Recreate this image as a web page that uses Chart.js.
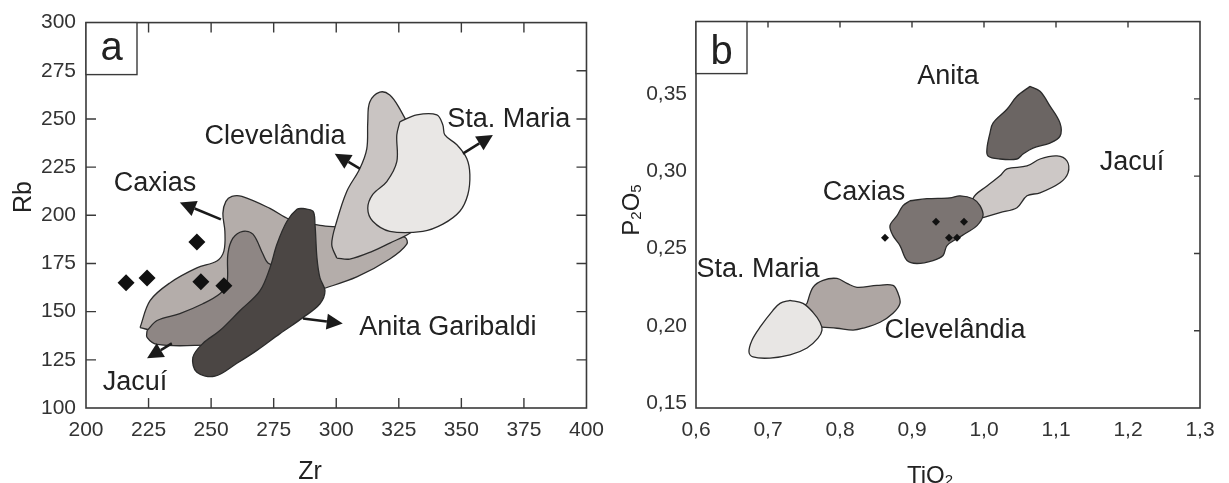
<!DOCTYPE html>
<html>
<head>
<meta charset="utf-8">
<script src="https://cdn.jsdelivr.net/npm/chart.js@4.4.1/dist/chart.umd.min.js"></script>
<style>
  html, body { margin: 0; padding: 0; background: #fff; }
  #wrap { position: relative; width: 1229px; height: 483px; overflow: hidden; }
  canvas { position: absolute; top: 0; }
  #chartA { left: 0; }
  #chartB { left: 614px; }
</style>
</head>
<body>
<div id="wrap">
  <canvas id="chartA" width="614" height="483"></canvas>
  <canvas id="chartB" width="615" height="483"></canvas>
</div>
<script>
const FONT = '"Liberation Sans", Arial, Helvetica, sans-serif';

// ---------- panel a : Zr vs Rb ----------
const zrTicks = [225, 250, 275, 300, 325, 350, 375];
const rbTicks = [125, 150, 175, 200, 225, 250, 275];

const aCaxias = [[221.6, 141.7], [225.6, 155.7], [233.5, 164.9], [244.3, 172.7], [252.3, 176.3], [255.1, 181.4],
  [255.5, 191.7], [254.7, 201.0], [255.9, 207.2], [258.3, 209.8], [262.3, 209.8], [273.5, 203.6], [281.5, 197.9],
  [293.5, 194.8], [301.4, 193.8], [317.4, 191.7], [327.4, 188.6], [328.2, 185.0], [321.4, 177.3], [308.2, 168.0],
  [293.5, 161.3], [281.5, 155.7], [265.5, 147.0], [245.5, 141.0], [228.0, 140.0]];
const aJacui = [[224.4, 140.2], [228.4, 145.4], [237.5, 149.0], [246.7, 154.1], [253.5, 159.3], [256.3, 164.4],
  [256.7, 179.9], [258.7, 188.1], [262.7, 191.7], [266.7, 190.2], [270.7, 179.9], [272.7, 175.3], [279.5, 171.1],
  [272.0, 145.0], [259.0, 134.5], [244.3, 132.5], [228.4, 133.0], [224.4, 136.6]];
const aAnita = [[286.7, 203.6], [290.7, 202.1], [291.5, 195.4], [292.3, 177.8], [293.5, 167.5], [295.5, 160.8],
  [293.5, 154.1], [286.7, 146.9], [277.5, 138.6], [268.3, 129.9], [260.3, 123.2], [251.5, 116.5], [244.3, 118.5],
  [242.7, 126.3], [246.7, 133.5], [253.5, 140.2], [261.5, 150.5], [269.5, 160.8], [273.5, 172.7], [276.3, 185.0],
  [280.3, 196.9], [284.3, 203.1]];
const aCleve = [[300.2, 177.8], [298.2, 185.0], [300.2, 196.9], [304.2, 212.4], [309.4, 224.2], [312.2, 234.5],
  [312.6, 248.5], [313.4, 258.8], [317.4, 263.9], [321.4, 262.4], [325.4, 255.2], [329.4, 244.8], [335.4, 222.7],
  [337.4, 199.5], [329.4, 190.7], [321.4, 185.6], [314.6, 181.4], [305.4, 177.3]];
const aStaMaria = [[325.4, 248.5], [332.2, 252.1], [340.2, 252.1], [342.6, 246.9], [343.4, 241.7], [348.2, 236.6],
  [352.2, 229.4], [353.4, 221.1], [352.6, 210.8], [349.4, 202.1], [342.6, 195.4], [334.6, 191.7], [321.4, 191.7],
  [314.6, 196.9], [312.6, 203.6], [314.6, 210.8], [320.2, 217.5], [324.2, 227.8], [324.2, 241.7]];
const aSamples = [[216.0, 165.0], [224.4, 167.5], [244.3, 186.1], [245.9, 165.5], [255.1, 163.4]];
const aArrows = [[253.9, 197.9, 237.5, 206.7], [309.4, 224.2, 299.4, 232.0], [350.6, 232.0, 362.6, 241.7],
  [286.7, 146.4, 302.6, 143.8], [234.3, 133.5, 224.4, 125.8]];
const aLabels = [['Clevelândia', 275.5, 240.7], ['Caxias', 227.6, 216.5], ['Sta. Maria', 368.9, 249.5],
  ['Anita Garibaldi', 344.6, 141.7], ['Jacuí', 219.6, 113.4]];

// ---------- panel b : TiO2 vs P2O5 ----------
const tiTicks = [0.7, 0.8, 0.9, 1.0, 1.1, 1.2];
const pTicks = [0.20, 0.25, 0.30, 0.35];

const bAnita = [[1.0639, 0.3581], [1.0778, 0.3549], [1.0917, 0.3453], [1.1056, 0.3343], [1.1056, 0.3259],
  [1.0917, 0.3214], [1.0681, 0.3182], [1.0542, 0.3143], [1.0458, 0.3111], [1.0222, 0.3111], [1.0056, 0.3131],
  [1.0042, 0.3182], [1.0083, 0.3279], [1.0125, 0.3343], [1.0319, 0.3433], [1.0458, 0.3517]];
const bJacui = [[0.9986, 0.2731], [0.9944, 0.2764], [0.9847, 0.2854], [1.0042, 0.2937], [1.0222, 0.3002],
  [1.0319, 0.3047], [1.0597, 0.3066], [1.0778, 0.3111], [1.1014, 0.3131], [1.1153, 0.3098], [1.1167, 0.3021],
  [1.1056, 0.2957], [1.0778, 0.2892], [1.0597, 0.2873], [1.0458, 0.2796], [1.0222, 0.2764]];
const bCaxias = [[0.8972, 0.2841], [0.9208, 0.2854], [0.9528, 0.2860], [0.9667, 0.2873], [0.9847, 0.2854],
  [0.9944, 0.2809], [0.9986, 0.2744], [0.9903, 0.2680], [0.9764, 0.2635], [0.9625, 0.2596], [0.9486, 0.2551],
  [0.9431, 0.2487], [0.9292, 0.2454], [0.9069, 0.2435], [0.8931, 0.2454], [0.8833, 0.2551], [0.8736, 0.2615],
  [0.8694, 0.2680], [0.8792, 0.2744], [0.8875, 0.2809]];
const bStaMaria = [[0.7306, 0.2197], [0.7486, 0.2177], [0.7625, 0.2119], [0.7722, 0.2055], [0.7750, 0.2004],
  [0.7694, 0.1952], [0.7542, 0.1888], [0.7306, 0.1843], [0.7028, 0.1823], [0.6792, 0.1830], [0.6736, 0.1862],
  [0.6778, 0.1939], [0.6889, 0.2023], [0.7069, 0.2132], [0.7167, 0.2177]];
const bCleve = [[0.7542, 0.2177], [0.7625, 0.2281], [0.7764, 0.2326], [0.7958, 0.2338], [0.8097, 0.2306],
  [0.8236, 0.2281], [0.8514, 0.2293], [0.8736, 0.2293], [0.8806, 0.2242], [0.8833, 0.2177], [0.8736, 0.2113],
  [0.8556, 0.2055], [0.8319, 0.2016], [0.8181, 0.2004], [0.7958, 0.2016], [0.7750, 0.2023], [0.7514, 0.2036],
  [0.7444, 0.2132]];
const bSamples = [[0.8625, 0.2602], [0.9333, 0.2705], [0.9722, 0.2705], [0.9514, 0.2602], [0.9625, 0.2602]];
const bLabels = [['Anita', 0.95, 0.3646], ['Jacuí', 1.2056, 0.3086], ['Caxias', 0.8333, 0.2892],
  ['Sta. Maria', 0.6861, 0.2396], ['Clevelândia', 0.9597, 0.2004]];

const toXY = (pts) => pts.map(([x, y]) => ({ x, y }));

function field(pts, color, order) {
  return {
    data: toXY(pts.concat([pts[0]])),
    backgroundColor: color,
    borderColor: '#2b2b2b',
    borderWidth: 1.3,
    fill: 'shape',
    tension: 0.35,
    pointRadius: 0,
    order,
  };
}

function samples(pts, radius) {
  return {
    data: toXY(pts),
    showLine: false,
    pointStyle: 'rectRot',
    pointRadius: radius,
    backgroundColor: '#111',
    borderColor: '#111',
    borderWidth: 0,
    order: 0,
  };
}

function drawArrow(ctx, x0, y0, x1, y1) {
  const ang = Math.atan2(y1 - y0, x1 - x0);
  const len = 16, half = 8;
  const bx = x1 - Math.cos(ang) * len, by = y1 - Math.sin(ang) * len;
  ctx.strokeStyle = '#1a1a1a';
  ctx.lineWidth = 2.5;
  ctx.beginPath();
  ctx.moveTo(x0, y0);
  ctx.lineTo(bx, by);
  ctx.stroke();
  ctx.fillStyle = '#1a1a1a';
  ctx.beginPath();
  ctx.moveTo(x1, y1);
  ctx.lineTo(bx + Math.sin(ang) * half, by - Math.cos(ang) * half);
  ctx.lineTo(bx - Math.sin(ang) * half, by + Math.cos(ang) * half);
  ctx.closePath();
  ctx.fill();
}

// parts: [[text, isSubscript], ...], centred on (cx, cy)
function drawTitle(ctx, parts, cx, cy, size, rotate) {
  ctx.save();
  ctx.translate(cx, cy);
  if (rotate) ctx.rotate(-Math.PI / 2);
  const sub = Math.round(size * 0.62);
  let w = 0;
  parts.forEach(([t, s]) => { ctx.font = `${s ? sub : size}px ${FONT}`; w += ctx.measureText(t).width; });
  let x = -w / 2;
  const base = size * 0.36;
  ctx.fillStyle = '#222';
  ctx.textAlign = 'left';
  ctx.textBaseline = 'alphabetic';
  parts.forEach(([t, s]) => {
    ctx.font = `${s ? sub : size}px ${FONT}`;
    ctx.fillText(t, x, s ? base + size * 0.1 : base);
    x += ctx.measureText(t).width;
  });
  ctx.restore();
}

const decor = {
  id: 'decor',
  afterDatasetsDraw(chart, args, opts) {
    const { ctx, chartArea: ca } = chart;
    const sx = chart.scales.x, sy = chart.scales.y;
    ctx.save();

    (opts.arrows || []).forEach(([x0, y0, x1, y1]) =>
      drawArrow(ctx, sx.getPixelForValue(x0), sy.getPixelForValue(y0), sx.getPixelForValue(x1), sy.getPixelForValue(y1)));

    ctx.fillStyle = '#222';
    ctx.font = `27px ${FONT}`;
    ctx.textAlign = 'center';
    ctx.textBaseline = 'middle';
    opts.labels.forEach(([t, lx, ly]) => ctx.fillText(t, sx.getPixelForValue(lx), sy.getPixelForValue(ly)));

    // frame and inward ticks
    ctx.strokeStyle = '#3a3a3a';
    ctx.lineWidth = 1.6;
    ctx.strokeRect(ca.left, ca.top, ca.width, ca.height);
    const tl = opts.tickLen;
    ctx.lineWidth = 1.4;
    ctx.beginPath();
    (opts.ticks.top || []).forEach(v => { const p = sx.getPixelForValue(v); ctx.moveTo(p, ca.top); ctx.lineTo(p, ca.top + tl); });
    (opts.ticks.bottom || []).forEach(v => { const p = sx.getPixelForValue(v); ctx.moveTo(p, ca.bottom); ctx.lineTo(p, ca.bottom - tl); });
    (opts.ticks.left || []).forEach(v => { const p = sy.getPixelForValue(v); ctx.moveTo(ca.left, p); ctx.lineTo(ca.left + tl, p); });
    (opts.ticks.right || []).forEach(v => { const p = sy.getPixelForValue(v); ctx.moveTo(ca.right, p); ctx.lineTo(ca.right - tl, p); });
    ctx.stroke();

    // panel letter box
    ctx.fillStyle = '#fff';
    ctx.fillRect(ca.left, ca.top, 51, 52);
    ctx.strokeRect(ca.left, ca.top, 51, 52);
    ctx.fillStyle = '#222';
    ctx.font = `40px ${FONT}`;
    ctx.textAlign = 'center';
    ctx.textBaseline = 'alphabetic';
    ctx.fillText(opts.letter, ca.left + 25.5, ca.top + opts.letterBase);
    ctx.restore();

    drawTitle(ctx, opts.xTitle.parts, opts.xTitle.x, opts.xTitle.y, opts.xTitle.size, false);
    drawTitle(ctx, opts.yTitle.parts, opts.yTitle.x, opts.yTitle.y, opts.yTitle.size, true);
  },
};

function baseOptions(cfg) {
  return {
    responsive: false,
    animation: false,
    events: [],
    layout: { padding: { top: 20, right: cfg.right, left: 0, bottom: 0 } },
    plugins: { legend: { display: false }, tooltip: { enabled: false }, decor: cfg.decor },
    scales: {
      x: {
        type: 'linear',
        min: cfg.xMin, max: cfg.xMax,
        grid: { display: false, drawTicks: false },
        border: { display: false },
        ticks: { stepSize: cfg.xStep, padding: 10, color: '#333', font: { family: FONT, size: 21 }, callback: cfg.xFmt, maxRotation: 0, autoSkip: false },
        afterFit: (s) => { s.height = 75; },
      },
      y: {
        type: 'linear',
        min: cfg.yMin, max: cfg.yMax,
        grid: { display: false, drawTicks: false },
        border: { display: false },
        ticks: { stepSize: cfg.yStep, padding: cfg.yPad, labelOffset: cfg.yOffset, color: '#333', font: { family: FONT, size: 21 }, callback: cfg.yFmt, autoSkip: false },
        afterFit: (s) => { s.width = cfg.yWidth; },
      },
    },
  };
}

new Chart(document.getElementById('chartA'), {
  type: 'line',
  data: {
    datasets: [
      samples(aSamples, 8.5),
      field(aAnita, '#4b4644', 1),
      field(aStaMaria, '#e9e7e5', 2),
      field(aJacui, '#8e8684', 3),
      field(aCleve, '#c9c4c2', 4),
      field(aCaxias, '#b4adaa', 5),
    ],
  },
  options: baseOptions({
    right: 27, yWidth: 86, yPad: 10, yOffset: 0,
    xMin: 200, xMax: 400, xStep: 25, xFmt: (v) => v,
    yMin: 100, yMax: 300, yStep: 25, yFmt: (v) => v,
    decor: {
      arrows: aArrows, labels: aLabels, tickLen: 10,
      ticks: { top: zrTicks, bottom: zrTicks, left: rbTicks, right: rbTicks },
      letter: 'a', letterBase: 37,
      xTitle: { parts: [['Zr', false]], x: 310, y: 470, size: 25 },
      yTitle: { parts: [['Rb', false]], x: 22, y: 197, size: 25 },
    },
  }),
  plugins: [decor],
});

new Chart(document.getElementById('chartB'), {
  type: 'line',
  data: {
    datasets: [
      samples(bSamples, 4),
      field(bAnita, '#6b6563', 1),
      field(bCaxias, '#7b7472', 2),
      field(bStaMaria, '#e8e6e4', 3),
      field(bJacui, '#cdc8c6', 4),
      field(bCleve, '#aea6a3', 5),
    ],
  },
  options: baseOptions({
    right: 29, yWidth: 82, yPad: 9, yOffset: -5,
    xMin: 0.6, xMax: 1.3, xStep: 0.1, xFmt: (v) => v.toFixed(1).replace('.', ','),
    yMin: 0.15, yMax: 0.40, yStep: 0.05, yFmt: (v) => (v > 0.39 ? '' : v.toFixed(2).replace('.', ',')),
    decor: {
      labels: bLabels, tickLen: 6,
      ticks: { top: tiTicks, right: pTicks },
      letter: 'b', letterBase: 42,
      xTitle: { parts: [['TiO', false], ['2', true]], x: 316, y: 474, size: 24 },
      yTitle: { parts: [['P', false], ['2', true], ['O', false], ['5', true]], x: 16, y: 210, size: 24 },
    },
  }),
  plugins: [decor],
});
</script>
</body>
</html>
